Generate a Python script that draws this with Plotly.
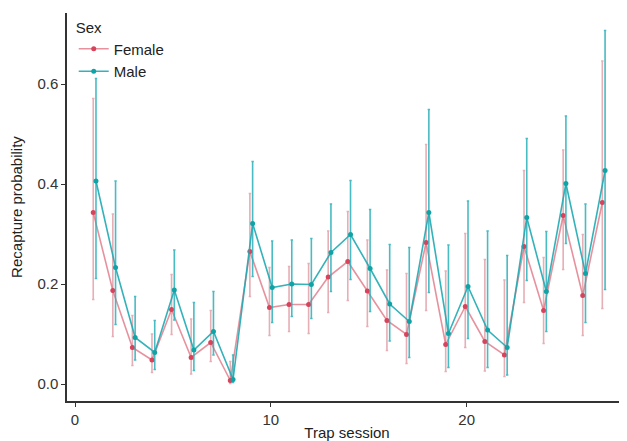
import plotly.graph_objects as go

sessions = list(range(1, 28))

female = [0.343, 0.187, 0.073, 0.048, 0.149, 0.053, 0.083, 0.007, 0.265, 0.153,
          0.159, 0.159, 0.214, 0.245, 0.186, 0.127, 0.099, 0.283, 0.079, 0.155,
          0.085, 0.058, 0.275, 0.147, 0.337, 0.177, 0.363]
female_hi = [0.571, 0.340, 0.137, 0.100, 0.219, 0.130, 0.147, 0.045, 0.381, 0.233,
             0.235, 0.241, 0.306, 0.345, 0.288, 0.228, 0.221, 0.479, 0.226, 0.301,
             0.249, 0.208, 0.427, 0.253, 0.468, 0.299, 0.646]
female_lo = [0.169, 0.095, 0.037, 0.023, 0.099, 0.020, 0.045, 0.001, 0.175, 0.097,
             0.105, 0.101, 0.143, 0.167, 0.115, 0.067, 0.041, 0.147, 0.025, 0.073,
             0.026, 0.015, 0.163, 0.081, 0.229, 0.097, 0.151]

male = [0.406, 0.233, 0.093, 0.063, 0.188, 0.068, 0.105, 0.009, 0.321, 0.193,
        0.200, 0.199, 0.263, 0.299, 0.231, 0.160, 0.125, 0.343, 0.101, 0.195,
        0.108, 0.073, 0.333, 0.185, 0.401, 0.221, 0.427]
male_hi = [0.611, 0.406, 0.175, 0.127, 0.268, 0.163, 0.185, 0.058, 0.445, 0.286,
           0.288, 0.291, 0.360, 0.407, 0.349, 0.279, 0.273, 0.549, 0.278, 0.366,
           0.306, 0.257, 0.491, 0.305, 0.536, 0.360, 0.707]
male_lo = [0.211, 0.119, 0.048, 0.029, 0.128, 0.027, 0.058, 0.003, 0.215, 0.123,
           0.135, 0.131, 0.185, 0.209, 0.145, 0.086, 0.053, 0.183, 0.033, 0.091,
           0.033, 0.018, 0.207, 0.105, 0.281, 0.123, 0.189]

x_ticks = [0, 10, 20]
y_ticks = [0.0, 0.2, 0.4, 0.6]
y_tick_labels = ["0.0", "0.2", "0.4", "0.6"]

dodge = 0.07
series = [
    ("Female", female, female_hi, female_lo, -dodge,
     "#D8435B", "rgba(222,110,125,0.75)", "rgba(220,140,150,0.7)"),
    ("Male", male, male_hi, male_lo, dodge,
     "#10A3A5", "rgba(30,170,178,0.9)", "rgba(40,175,185,0.85)"),
]

fig = go.Figure()
for name, vals, hi, lo, dx, mcol, lcol, ecol in series:
    xs = [s + dx for s in sessions]
    fig.add_trace(go.Scatter(
        x=xs, y=vals, mode="lines+markers", name=name,
        line=dict(color=lcol, width=1.6),
        marker=dict(color=mcol, size=5),
        error_y=dict(type="data", symmetric=False,
                     array=[h - v for h, v in zip(hi, vals)],
                     arrayminus=[v - l for v, l in zip(vals, lo)],
                     color=ecol, thickness=1.6, width=1.2),
    ))

# the page body adds an 8px offset, so the figure is sized to the remaining area
fig.update_layout(
    width=619, height=433,
    margin=dict(l=59, r=0, t=5, b=40, autoexpand=False),
    paper_bgcolor="white", plot_bgcolor="white",
    font=dict(family="Liberation Sans, Arial, sans-serif", size=15, color="#222"),
    legend=dict(
        title=dict(text="Sex", font=dict(size=15, color="#222")),
        x=0.012, y=1.0, xanchor="left", yanchor="top",
        bgcolor="rgba(0,0,0,0)", font=dict(size=15, color="#222"),
        itemwidth=30, tracegroupgap=0,
    ),
    xaxis=dict(
        range=[-0.41, 28.19], tickvals=x_ticks, ticks="outside", ticklen=4,
        tickcolor="#333", tickfont=dict(size=15, color="#333"),
        showline=True, linecolor="#333", linewidth=1.5, showgrid=False, zeroline=False,
        automargin=False,
        title=dict(text="Trap session", font=dict(size=15, color="#222"), standoff=2),
    ),
    yaxis=dict(
        range=[-0.034, 0.742], tickvals=y_ticks, ticktext=y_tick_labels,
        ticks="outside", ticklen=4, tickcolor="#333",
        tickfont=dict(size=15, color="#333"),
        showline=True, linecolor="#333", linewidth=1.5, showgrid=False, zeroline=False,
        automargin=False,
        title=dict(text="Recapture probability", font=dict(size=15, color="#222"), standoff=11),
    ),
)

fig.write_html("out.html")
